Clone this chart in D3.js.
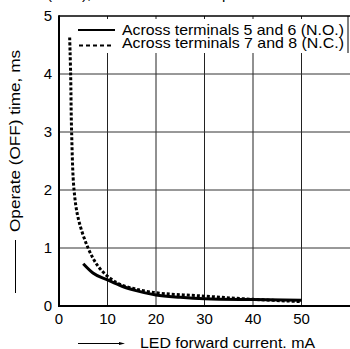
<!DOCTYPE html>
<html>
<head>
<meta charset="utf-8">
<script src="https://cdn.jsdelivr.net/npm/d3@7"></script>
<style>
  body { margin: 0; background: #fff; }
  svg { display: block; font-family: "Liberation Sans", Arial, sans-serif; }
</style>
</head>
<body>
<svg width="350" height="349"></svg>
<script>
// data
var xTicks = [0, 10, 20, 30, 40, 50];
var yTicks = [0, 1, 2, 3, 4, 5];
var noCurrent = [5, 7, 10, 13, 15.7, 20, 25, 30, 40, 50];
var noTime = [0.73, 0.57, 0.45, 0.34, 0.27, 0.19, 0.15, 0.125, 0.11, 0.1];
var ncCurrent = [2.2, 2.4, 2.6, 3.1, 4.0, 6.0, 8.1, 10.5, 13, 19, 30, 40, 50];
var ncTime = [4.63, 4.0, 3.0, 2.0, 1.5, 1.0, 0.68, 0.48, 0.36, 0.24, 0.17, 0.115, 0.075];
var seriesNames = ['Across terminals 5 and 6 (N.O.)', 'Across terminals 7 and 8 (N.C.)'];

var svg = d3.select('svg');

var plotLeft = 59, plotRight = 350, plotTop = 16, plotBottom = 306;

var x = d3.scaleLinear().domain([0, 60]).range([plotLeft, plotRight]);
var y = d3.scaleLinear().domain([0, 5]).range([plotBottom, plotTop]);

// heading, almost all of it is above the picture
svg.append('text')
    .attr('x', 47).attr('y', -1.5)
    .style('font-size', '15px')
    .text('(OFF), Release time vs. input current');

// grid
svg.append('g').selectAll('line')
    .data(xTicks.slice(1))
    .enter().append('line')
    .attr('x1', d => x(d)).attr('x2', d => x(d))
    .attr('y1', plotTop).attr('y2', plotBottom)
    .attr('stroke', '#222').attr('stroke-width', 1);

svg.append('g').selectAll('line')
    .data(yTicks.slice(1, 5))
    .enter().append('line')
    .attr('x1', plotLeft).attr('x2', plotRight)
    .attr('y1', d => y(d)).attr('y2', d => y(d))
    .attr('stroke', '#333').attr('stroke-width', 1);

// legend background hides the grid
svg.append('rect')
    .attr('x', 74).attr('y', plotTop + 3)
    .attr('width', 274).attr('height', 34)
    .attr('fill', '#fff');
svg.append('line').attr('x1', 348).attr('x2', 348).attr('y1', plotTop).attr('y2', plotTop + 37)
    .attr('stroke', '#000').attr('stroke-width', 1);

// frame
svg.append('line').attr('x1', plotLeft).attr('x2', plotRight).attr('y1', plotTop).attr('y2', plotTop)
    .attr('stroke', '#000').attr('stroke-width', 1.5);
svg.append('line').attr('x1', plotLeft).attr('x2', plotLeft).attr('y1', plotTop - 0.75).attr('y2', plotBottom + 1)
    .attr('stroke', '#000').attr('stroke-width', 2);
svg.append('line').attr('x1', plotLeft - 1).attr('x2', plotRight).attr('y1', plotBottom).attr('y2', plotBottom)
    .attr('stroke', '#000').attr('stroke-width', 2);

// tick labels
svg.append('g').selectAll('text')
    .data(xTicks)
    .enter().append('text')
    .attr('x', d => x(d)).attr('y', plotBottom + 18)
    .attr('text-anchor', 'middle')
    .style('font-size', '15px')
    .text(d => d);

svg.append('g').selectAll('text')
    .data(yTicks)
    .enter().append('text')
    .attr('x', 52).attr('y', d => y(d) + 5)
    .attr('text-anchor', 'end')
    .style('font-size', '15px')
    .text(d => d);

// curves
var line = d3.line()
    .x(d => x(d[0]))
    .y(d => y(d[1]))
    .curve(d3.curveMonotoneX);

svg.append('path')
    .datum(d3.zip(noCurrent, noTime))
    .attr('d', line)
    .attr('fill', 'none').attr('stroke', '#000').attr('stroke-width', 3);

var lineNc = d3.line()
    .x(d => x(d[0]))
    .y(d => y(d[1]))
    .curve(d3.curveCatmullRom);

svg.append('path')
    .datum(d3.zip(ncCurrent, ncTime))
    .attr('d', lineNc)
    .attr('fill', 'none').attr('stroke', '#000').attr('stroke-width', 3)
    .attr('stroke-dasharray', '3,2');

// legend
var legend = svg.append('g');
legend.append('line').attr('x1', 78).attr('x2', 115).attr('y1', 30).attr('y2', 30)
    .attr('stroke', '#000').attr('stroke-width', 2);
legend.append('line').attr('x1', 79).attr('x2', 112).attr('y1', 45.5).attr('y2', 45.5)
    .attr('stroke', '#000').attr('stroke-width', 2).attr('stroke-dasharray', '4,3');
legend.selectAll('text')
    .data(seriesNames)
    .enter().append('text')
    .attr('x', 122).attr('y', (d, i) => 34.7 + i * 13.6)
    .attr('textLength', 222).attr('lengthAdjust', 'spacingAndGlyphs')
    .style('font-size', '14.5px')
    .text(d => d);

// axis titles with arrows
svg.append('text')
    .attr('transform', 'translate(20,141) rotate(-90)')
    .attr('text-anchor', 'middle')
    .attr('textLength', 182).attr('lengthAdjust', 'spacingAndGlyphs')
    .style('font-size', '14.5px')
    .text('Operate (OFF) time, ms');
svg.append('line').attr('x1', 15.5).attr('x2', 15.5).attr('y1', 240).attr('y2', 293)
    .attr('stroke', '#000').attr('stroke-width', 1);

svg.append('text')
    .attr('x', 140).attr('y', 348)
    .attr('textLength', 175).attr('lengthAdjust', 'spacingAndGlyphs')
    .style('font-size', '14.5px')
    .text('LED forward current. mA');
svg.append('line').attr('x1', 78).attr('x2', 122).attr('y1', 343.5).attr('y2', 343.5)
    .attr('stroke', '#000').attr('stroke-width', 1);
svg.append('path')
    .attr('d', 'M119,342 L125,343.5 L119,345 Z')
    .attr('fill', '#000');
</script>
</body>
</html>
